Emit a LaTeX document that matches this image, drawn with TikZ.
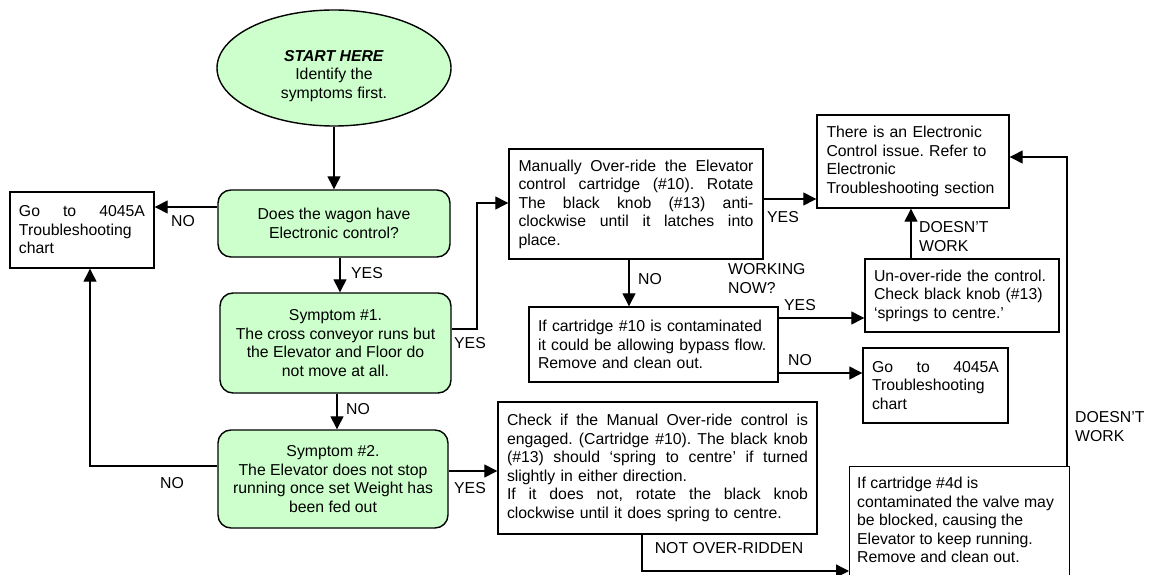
\documentclass[tikz,border=0pt]{standalone}
\usepackage{fontspec}
\setmainfont{Liberation Sans}
\usetikzlibrary{arrows.meta,shapes.geometric}
\definecolor{decgreen}{HTML}{CCFFCC}
\frenchspacing
\newcommand\JL[2]{\leavevmode\hbox to #1{\spaceskip=0.278em plus 1fil\relax\xspaceskip=\spaceskip #2}}
\begin{document}
\begin{tikzpicture}[x=1pt,y=-1pt,
  every node/.style={font=\fontsize{15.8}{18.5}\selectfont},
  box/.style={draw, line width=1.4pt, rectangle, inner sep=0pt, align=left},
  dec/.style={draw, line width=1.4pt, rounded corners=13pt, fill=decgreen, align=center, inner sep=0pt},
  arr/.style={line width=1.3pt, -{Triangle[length=13pt,width=13pt]}},
  ln/.style={line width=1.3pt},
  lbl/.style={inner sep=0pt, align=left}]
\useasboundingbox (0,0) rectangle (1149,575);

% start
\node[ellipse, draw, line width=1.4pt, fill=decgreen, minimum width=234pt, minimum height=116pt, inner sep=0pt] (start) at (334,68) {};
\node[align=center, inner sep=0pt] (starttxt) at (334,76) {\textbf{\textit{START HERE}}\\Identify the\\symptoms first.};

% decisions
\node[dec, minimum width=232pt, minimum height=67pt] (q1) at (334,223.5) {Does the wagon have\\Electronic control?};
\node[dec, minimum width=231pt, minimum height=100pt] (s1) at (335.5,343) {Symptom \#1.\\The cross conveyor runs but\\the Elevator and Floor do\\not move at all.};
\node[dec, minimum width=230pt, minimum height=98pt] (s2) at (333,479) {Symptom \#2.\\The Elevator does not stop\\running once set Weight has\\been fed out};

% boxes
\node[box, minimum width=144pt, minimum height=76pt, text width=126pt] (go1) at (82,230) {\JL{126pt}{Go to 4045A}\\Troubleshooting\\chart};
\node[box, minimum width=254pt, minimum height=110pt, text width=235pt] (man) at (636,204) {\JL{235pt}{Manually Over-ride the Elevator}\\\JL{235pt}{control cartridge (\#10). Rotate}\\\JL{235pt}{The black knob (\#13) anti-}\\\JL{235pt}{clockwise until it latches into}\\place.};
\node[box, minimum width=192pt, minimum height=93pt, text width=173pt] (elec) at (913,161.5) {There is an Electronic\\Control issue. Refer to\\Electronic\\Troubleshooting section};
\node[box, minimum width=249pt, minimum height=75pt, text width=231pt] (cart10) at (653.5,344.5) {If cartridge \#10 is contaminated\\it could be allowing bypass flow.\\Remove and clean out.};
\node[box, minimum width=194pt, minimum height=73pt, text width=176pt] (unov) at (962,295.5) {Un-over-ride the control.\\Check black knob (\#13)\\‘springs to centre.’};
\node[box, minimum width=145pt, minimum height=75pt, text width=127pt] (go2) at (935.5,385.5) {\JL{127pt}{Go to 4045A}\\Troubleshooting\\chart};
\node[box, minimum width=319pt, minimum height=132pt, text width=301pt] (chk) at (657.5,468) {\JL{301pt}{Check if the Manual Over-ride control is}\\\JL{301pt}{engaged. (Cartridge \#10). The black knob}\\\JL{301pt}{(\#13) should ‘spring to centre’ if turned}\\slightly in either direction.\\\JL{301pt}{If it does not, rotate the black knob}\\clockwise until it does spring to centre.};
\node[box, anchor=north west, minimum width=220pt, minimum height=125pt] (cart4d) at (849,466) {};
\node[lbl, anchor=north west] (cart4dtxt) at (857,477) {If cartridge \#4d is\\contaminated the valve may\\be blocked, causing the\\Elevator to keep running.\\Remove and clean out.};

% connectors
\draw[arr] (start.south) -- (q1.north);
\draw[arr] (q1.west |- 0,207) -- (go1.east |- 0,207);
\node[lbl] (lno1) at (183,221) {NO};
\draw[arr] (q1.south -| 340,0) -- (s1.north -| 340,0);
\node[lbl] (lyes1) at (367,273) {YES};
\draw[arr] (s1.south -| 337,0) -- (s2.north -| 337,0);
\node[lbl] (lno2) at (358,409) {NO};
\draw[arr] (s2.west |- 0,466) -- (90,466) -- (go1.south -| 90,0);
\node[lbl] (lno3) at (172,483) {NO};
\draw[arr] (s1.east |- 0,329) -- (477,329) -- (477,203) -- (man.west |- 0,203);
\node[lbl] (lyes2) at (470,343) {YES};
\draw[arr] (man.east |- 0,199) -- (elec.west |- 0,199);
\node[lbl] (lyes3) at (783,217) {YES};
\draw[arr] (man.south -| 629,0) -- (cart10.north -| 629,0);
\node[lbl] (lno4) at (650,279) {NO};
\node[lbl, anchor=north west] (lwork) at (728,263.5) {WORKING\\NOW?};
\draw[arr] (cart10.east |- 0,318) -- (unov.west |- 0,318);
\node[lbl] (lyes4) at (800,305) {YES};
\draw[arr] (unov.north -| 911,0) -- (elec.south -| 911,0);
\node[lbl, anchor=north west] (ldw1) at (919,221.5) {DOESN’T\\WORK};
\draw[arr] (cart10.east |- 0,373) -- (go2.west |- 0,373);
\node[lbl] (lno5) at (800,360) {NO};
\draw[arr] (s2.east |- 0,471) -- (chk.west |- 0,471);
\node[lbl] (lyes5) at (470,488) {YES};
\draw[arr] (chk.south -| 642,0) -- (642,571) -- (cart4d.west |- 0,571);
\node[lbl] (lnor) at (729,548) {NOT OVER-RIDDEN};
\draw[arr] (cart4d.north -| 1067,0) -- (1067,157) -- (elec.east |- 0,157);
\node[lbl, anchor=north west] (ldw2) at (1075,411.5) {DOESN’T\\WORK};
\end{tikzpicture}
\end{document}
